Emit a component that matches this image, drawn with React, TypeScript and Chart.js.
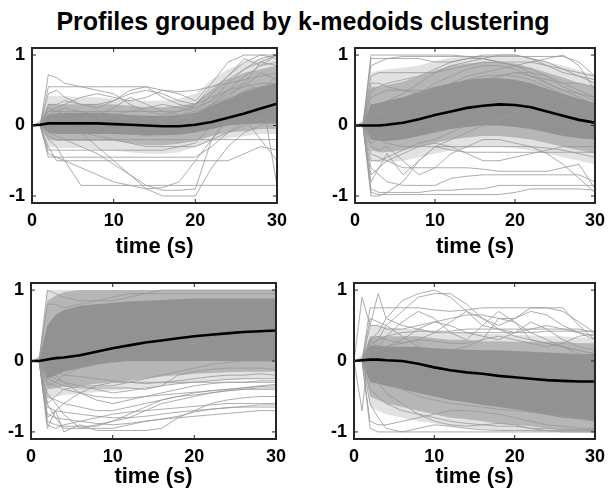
import React, { useEffect, useRef } from 'react';
import { Chart, registerables } from 'chart.js';

Chart.register(...registerables);
Chart.defaults.font.family = "'Liberation Sans', Arial, Helvetica, sans-serif";

const TITLE = 'Profiles grouped by k-medoids clustering';
const X_LABEL = 'time (s)';
const TIME = [0, 1, 2, 3, 4, 6, 8, 10, 12, 14, 16, 18, 20, 22, 24, 26, 28, 30];
const X_TICKS = [0, 10, 20, 30];
const Y_TICKS = [-1, 0, 1];
const Y_MIN = -1.1;
const Y_MAX = 1.1;

// ---------- Cluster 1 (top-left) ----------
const C1_MEAN = [0, 0.01, 0.03, 0.03, 0.03, 0.03, 0.03, 0.02, 0.01, 0, -0.01, -0.01, 0.01, 0.05, 0.11, 0.17, 0.24, 0.31];
const C1_CORE_LO = [0, 0, -0.1, -0.12, -0.12, -0.12, -0.12, -0.12, -0.13, -0.14, -0.14, -0.13, -0.1, -0.05, 0, 0.02, 0.03, 0.03];
const C1_CORE_HI = [0, 0.02, 0.15, 0.17, 0.18, 0.18, 0.18, 0.17, 0.15, 0.14, 0.14, 0.15, 0.18, 0.28, 0.38, 0.48, 0.55, 0.6];
const C1_HALO_LO = [0, 0, -0.2, -0.22, -0.22, -0.22, -0.22, -0.22, -0.25, -0.28, -0.28, -0.26, -0.22, -0.15, -0.1, -0.08, -0.05, -0.05];
const C1_HALO_HI = [0, 0.05, 0.3, 0.3, 0.3, 0.3, 0.3, 0.3, 0.28, 0.26, 0.26, 0.28, 0.32, 0.5, 0.65, 0.75, 0.8, 0.85];
const C1_OUTER_LO = [0, 0, -0.3, -0.32, -0.32, -0.32, -0.34, -0.36, -0.38, -0.4, -0.4, -0.38, -0.3, -0.22, -0.18, -0.15, -0.12, -0.12];
const C1_OUTER_HI = [0, 0.08, 0.42, 0.42, 0.42, 0.4, 0.4, 0.38, 0.36, 0.35, 0.35, 0.38, 0.45, 0.65, 0.8, 0.9, 0.95, 0.95];
const C1_LINES = [
  [0, 0, 0.72, 0.68, 0.6, 0.55, 0.5, 0.45, 0.3, 0.2, 0.15, 0.2, 0.3, 0.5, 0.7, 0.95, 0.85, 0.9],
  [0, 0, 0.55, 0.55, 0.55, 0.55, 0.55, 0.55, 0.55, 0.55, 0.5, 0.48, 0.5, 0.55, 0.6, 0.65, 0.7, 0.75],
  [0, 0, 0.45, 0.5, 0.4, 0.3, 0.25, 0.35, 0.5, 0.55, 0.4, 0.3, 0.25, 0.35, 0.6, 0.8, 0.95, 1.0],
  [0, 0, -0.4, -0.45, -0.5, -0.6, -0.7, -0.8, -0.85, -0.9, -0.88, -0.8, -0.5, -0.2, -0.1, 0, 0.1, 0.1],
  [0, 0, -0.45, -0.45, -0.45, -0.45, -0.45, -0.45, -0.45, -0.45, -0.45, -0.45, -0.45, -0.3, -0.1, 0.05, 0.1, 0.15],
  [0, 0, -0.3, -0.5, -0.5, -0.5, -0.5, -0.5, -0.5, -0.5, -0.5, -0.5, -0.5, -0.5, -0.5, -0.4, -0.3, -0.35],
  [0, 0, -0.2, -0.3, -0.5, -0.85, -0.85, -0.85, -0.85, -0.85, -0.85, -0.85, -0.85, -0.85, -0.85, -0.85, -0.85, -0.85],
  [0, 0, -0.1, -0.15, -0.2, -0.3, -0.4, -0.55, -0.7, -0.85, -0.92, -0.92, -0.9, -0.2, 0.1, 0.2, 0.3, 0.3],
  [0, 0, 0.1, 0.05, 0, -0.1, -0.3, -0.5, -0.7, -0.9, -1.0, -1.0, -1.0, -0.6, -0.3, -0.1, 0, 0.1],
  [0, 0, 0.2, 0.25, 0.3, 0.4, 0.45, 0.4, 0.35, 0.4, 0.5, 0.45, 0.35, 0.6, 0.9, 1.0, 1.0, 1.0],
  [0, 0, 0.1, 0.15, 0.1, 0.05, 0.1, 0.15, 0.1, 0.1, 0.1, 0.15, 0.2, 0.45, 0.7, 0.9, 1.0, 0.95],
  [0, 0, 0.05, 0.1, 0.1, 0.1, 0.05, 0.0, 0.05, 0.1, 0.05, 0.1, 0.3, 0.55, 0.65, 0.8, 0.9, 0.85],
  [0, 0, 0.1, 0.1, 0.1, 0.1, 0.1, 0.1, 0.1, 0.1, 0.1, 0.1, 0.15, 0.3, 0.5, 0.6, 0.5, -0.85],
  [0, 0, -0.05, -0.1, -0.1, -0.1, -0.15, -0.2, -0.25, -0.3, -0.3, -0.3, -0.3, -0.2, 0.1, 0.3, 0.5, 0.7],
  [0, 0, 0.3, 0.3, 0.35, 0.3, 0.3, 0.35, 0.45, 0.5, 0.45, 0.35, 0.3, 0.4, 0.5, 0.55, 0.6, 0.6],
  [0, 0, -0.35, -0.35, -0.35, -0.35, -0.35, -0.35, -0.35, -0.35, -0.35, -0.3, -0.25, 0, 0.2, 0.4, 0.35, 0.45],
  [0, 0, 0.2, 0.2, 0.2, 0.2, 0.2, 0.2, 0.2, 0.2, 0.2, 0.2, 0.25, 0.35, 0.5, 0.7, 0.85, 1.0],
  [0, 0, 0.05, 0, -0.05, -0.05, 0, 0, 0, -0.05, -0.05, 0, 0.1, 0.3, 0.45, 0.55, 0.75, 0.65],
  [0, 0, 0.25, 0.2, 0.15, 0.1, 0.15, 0.25, 0.4, 0.3, 0.2, 0.15, 0.1, 0.2, 0.3, 0.1, -0.2, -0.5],
  [0, 0, -0.15, -0.2, -0.2, -0.2, -0.2, -0.2, -0.2, -0.2, -0.2, -0.2, -0.2, -0.2, -0.2, -0.2, -0.2, -0.2],
  [0, 0, 0.15, 0.2, 0.25, 0.2, 0.15, 0.15, 0.2, 0.25, 0.3, 0.25, 0.2, 0.3, 0.4, 0.6, 0.9, 1.0],
  [0, 0, -0.1, -0.05, 0, 0.05, 0, -0.05, -0.1, -0.15, -0.1, 0, 0.05, 0.15, 0.35, 0.5, 0.55, 0.6],
];

// ---------- Cluster 2 (top-right) ----------
const C2_MEAN = [0, 0, 0, 0, 0.01, 0.04, 0.09, 0.15, 0.2, 0.25, 0.28, 0.3, 0.29, 0.26, 0.2, 0.14, 0.08, 0.04];
const C2_CORE_LO = [0, 0, -0.2, -0.22, -0.22, -0.2, -0.15, -0.1, -0.05, -0.02, 0, 0, -0.02, -0.05, -0.1, -0.15, -0.18, -0.2];
const C2_CORE_HI = [0, 0.02, 0.3, 0.32, 0.35, 0.4, 0.48, 0.55, 0.6, 0.65, 0.67, 0.67, 0.65, 0.6, 0.52, 0.45, 0.38, 0.32];
const C2_HALO_LO = [0, 0, -0.35, -0.38, -0.38, -0.35, -0.3, -0.25, -0.2, -0.17, -0.15, -0.15, -0.17, -0.2, -0.25, -0.3, -0.35, -0.4];
const C2_HALO_HI = [0, 0.05, 0.55, 0.55, 0.58, 0.62, 0.7, 0.78, 0.85, 0.88, 0.9, 0.9, 0.88, 0.82, 0.75, 0.68, 0.6, 0.55];
const C2_OUTER_LO = [0, 0, -0.5, -0.52, -0.52, -0.5, -0.45, -0.4, -0.35, -0.32, -0.3, -0.3, -0.32, -0.35, -0.4, -0.45, -0.5, -0.55];
const C2_OUTER_HI = [0, 0.08, 0.75, 0.78, 0.8, 0.82, 0.85, 0.92, 0.96, 0.98, 0.98, 0.98, 0.98, 0.95, 0.9, 0.85, 0.78, 0.72];
const C2_LINES = [
  [0, 0, 1.0, 1.0, 1.0, 1.0, 1.0, 1.0, 1.0, 0.98, 0.95, 0.9, 0.85, 0.75, 0.6, 0.5, 0.45, 0.4],
  [0, 0, 0.95, 0.95, 0.95, 0.95, 0.95, 0.9, 0.9, 0.95, 1.0, 1.0, 1.0, 0.95, 0.9, 0.8, 0.75, 0.7],
  [0, 0, -1.0, -1.0, -0.95, -0.8, -0.5, -0.3, -0.2, -0.1, 0, 0.1, 0.2, 0.25, 0.2, 0.15, 0.1, 0.05],
  [0, 0, -0.9, -0.95, -0.95, -0.95, -0.95, -0.92, -0.92, -0.9, -0.9, -0.85, -0.85, -0.85, -0.85, -0.85, -0.85, -0.85],
  [0, 0, -0.6, -0.7, -0.8, -0.85, -0.85, -0.85, -0.75, -0.72, -0.7, -0.7, -0.7, -0.7, -0.7, -0.7, -0.7, -0.8],
  [0, 0, -0.4, -0.45, -0.5, -0.6, -0.6, -0.6, -0.6, -0.6, -0.62, -0.65, -0.65, -0.65, -0.65, -0.6, -0.55, -0.9],
  [0, 0, -0.8, -0.6, -0.4, -0.7, -0.5, -0.3, -0.35, -0.38, -0.38, -0.38, -0.38, -0.38, -0.38, -0.38, -0.38, -0.38],
  [0, 0, 0.7, 0.75, 0.75, 0.75, 0.75, 0.75, 0.8, 0.85, 0.9, 0.9, 0.85, 0.9, 0.95, 1.0, 0.85, 0.5],
  [0, 0, -0.3, -0.35, -0.3, -0.5, -0.7, -0.6, -0.4, -0.3, -0.2, -0.2, -0.25, -0.3, -0.4, -0.55, -0.75, -0.95],
  [0, 0, 0.2, 0.25, 0.35, 0.45, 0.6, 0.75, 0.85, 0.9, 0.95, 1.0, 1.0, 0.95, 0.85, 0.75, 0.7, 0.65],
  [0, 0, 0.1, 0.15, 0.2, 0.3, 0.45, 0.6, 0.7, 0.8, 0.85, 0.85, 0.8, 0.7, 0.6, 0.5, 0.4, 0.3],
  [0, 0, -0.15, -0.2, -0.25, -0.3, -0.3, -0.3, -0.3, -0.3, -0.3, -0.3, -0.3, -0.3, -0.32, -0.35, -0.4, -0.45],
  [0, 0, 0.4, 0.45, 0.5, 0.5, 0.5, 0.5, 0.55, 0.6, 0.65, 0.7, 0.75, 0.7, 0.65, 0.6, 0.6, 0.55],
  [0, 0, -0.5, -0.5, -0.45, -0.35, -0.25, -0.2, -0.1, 0.0, 0.05, 0.1, 0.15, 0.1, 0.05, 0, -0.05, -0.1],
  [0, 0, 0.6, 0.6, 0.55, 0.5, 0.45, 0.5, 0.6, 0.7, 0.75, 0.8, 0.85, 0.8, 0.7, 0.55, 0.45, 0.35],
  [0, 0, -0.1, -0.1, -0.05, 0.05, 0.2, 0.3, 0.4, 0.5, 0.6, 0.7, 0.75, 0.75, 0.7, 0.6, 0.5, 0.4],
  [0, 0, -0.7, -0.6, -0.5, -0.4, -0.3, -0.25, -0.3, -0.4, -0.5, -0.5, -0.45, -0.4, -0.35, -0.3, -0.3, -0.3],
  [0, 0, 0.85, 0.9, 0.95, 0.98, 0.98, 0.98, 0.98, 0.98, 0.98, 0.98, 0.98, 0.98, 0.98, 0.98, 0.9, 0.7],
  [0, 0, -0.95, -0.98, -0.98, -0.98, -0.98, -0.98, -0.98, -0.98, -0.98, -0.98, -0.95, -0.9, -0.9, -0.9, -0.9, -0.92],
  [0, 0, 0.3, 0.2, 0.1, 0.15, 0.25, 0.4, 0.55, 0.65, 0.7, 0.72, 0.7, 0.65, 0.55, 0.45, 0.2, 0.05],
  [0, 0, -0.25, -0.2, -0.15, -0.1, 0, 0.1, 0.2, 0.3, 0.35, 0.4, 0.45, 0.5, 0.45, 0.4, 0.3, 0.2],
  [0, 0, 0.5, 0.55, 0.6, 0.65, 0.7, 0.8, 0.9, 0.95, 0.95, 0.9, 0.9, 0.9, 0.85, 0.8, 0.7, 0.6],
];

// ---------- Cluster 3 (bottom-left) ----------
const C3_MEAN = [0, 0, 0.02, 0.04, 0.05, 0.08, 0.13, 0.18, 0.22, 0.26, 0.29, 0.32, 0.35, 0.37, 0.39, 0.41, 0.42, 0.43];
const C3_CORE_LO = [0, 0, -0.25, -0.2, -0.15, -0.1, -0.05, -0.02, 0, 0, 0, 0, 0, 0, 0, 0, 0, 0];
const C3_CORE_HI = [0, 0.02, 0.5, 0.65, 0.72, 0.78, 0.8, 0.82, 0.84, 0.85, 0.86, 0.87, 0.88, 0.88, 0.88, 0.88, 0.88, 0.88];
const C3_HALO_LO = [0, 0, -0.4, -0.38, -0.36, -0.35, -0.32, -0.3, -0.28, -0.25, -0.22, -0.2, -0.18, -0.17, -0.16, -0.15, -0.15, -0.15];
const C3_HALO_HI = [0, 0.05, 0.85, 0.92, 0.97, 1, 1, 1, 1, 1, 1, 1, 1, 1, 1, 1, 1, 1];
const C3_OUTER_LO = [0, 0, -0.55, -0.5, -0.48, -0.46, -0.44, -0.42, -0.4, -0.37, -0.34, -0.32, -0.3, -0.28, -0.27, -0.26, -0.25, -0.25];
const C3_OUTER_HI = [0, 0.08, 1, 1, 1, 1, 1, 1, 1, 1, 1, 1, 1, 1, 1, 1, 1, 1];
const C3_LINES = [
  [0, 0, -0.9, -0.95, -0.9, -0.85, -0.8, -0.75, -0.72, -0.7, -0.68, -0.66, -0.64, -0.62, -0.6, -0.6, -0.6, -0.6],
  [0, 0, -0.6, -0.8, -0.95, -0.95, -0.95, -0.95, -0.9, -0.85, -0.82, -0.8, -0.78, -0.76, -0.74, -0.72, -0.7, -0.7],
  [0, 0, -0.95, -0.7, -1.0, -0.9, -0.98, -0.98, -0.98, -0.98, -0.95, -0.8, -0.7, -0.6, -0.55, -0.52, -0.5, -0.5],
  [0, 0, -0.5, -0.55, -0.6, -0.65, -0.7, -0.7, -0.65, -0.6, -0.55, -0.5, -0.48, -0.45, -0.42, -0.4, -0.4, -0.4],
  [0, 0, -0.75, -0.8, -0.82, -0.85, -0.88, -0.9, -0.88, -0.85, -0.82, -0.78, -0.72, -0.68, -0.66, -0.65, -0.65, -0.65],
  [0, 0, -0.3, -0.35, -0.4, -0.45, -0.5, -0.52, -0.52, -0.5, -0.48, -0.46, -0.44, -0.42, -0.4, -0.38, -0.35, -0.33],
  [0, 0, -0.2, -0.25, -0.3, -0.35, -0.4, -0.45, -0.42, -0.38, -0.35, -0.32, -0.3, -0.28, -0.26, -0.25, -0.25, -0.25],
  [0, 0, -0.8, -0.7, -0.6, -0.45, -0.35, -0.3, -0.3, -0.32, -0.3, -0.28, -0.25, -0.22, -0.2, -0.2, -0.18, -0.2],
  [0, 0, -0.45, -0.6, -0.75, -0.95, -0.9, -0.85, -0.8, -0.7, -0.6, -0.55, -0.5, -0.45, -0.42, -0.4, -0.38, -0.38],
  [0, 0, 1.0, 0.95, 0.9, 0.85, 0.85, 0.85, 0.9, 0.95, 1, 1, 1, 1, 1, 1, 1, 1],
  [0, 0, 0.8, 0.8, 0.75, 0.8, 0.85, 0.9, 0.95, 0.95, 0.95, 0.95, 0.95, 0.95, 0.95, 0.95, 0.95, 0.95],
  [0, 0, -0.35, -0.3, -0.2, -0.1, -0.05, 0, 0.05, 0.1, 0.15, 0.2, 0.25, 0.3, 0.35, 0.4, 0.45, 0.5],
  [0, 0, -0.6, -0.5, -0.4, -0.35, -0.35, -0.35, -0.3, -0.25, -0.2, -0.15, -0.1, -0.05, -0.02, 0, 0, 0],
  [0, 0, -0.15, -0.2, -0.3, -0.45, -0.55, -0.6, -0.55, -0.5, -0.45, -0.4, -0.35, -0.32, -0.3, -0.3, -0.28, -0.28],
  [0, 0, -0.85, -0.9, -0.92, -0.92, -0.92, -0.85, -0.75, -0.65, -0.55, -0.5, -0.45, -0.42, -0.4, -0.38, -0.36, -0.35],
  [0, 0, -0.25, -0.3, -0.35, -0.38, -0.38, -0.38, -0.38, -0.4, -0.35, -0.2, -0.15, -0.12, -0.1, -0.1, -0.1, -0.12],
  [0, 0, -0.1, -0.15, -0.2, -0.22, -0.25, -0.28, -0.3, -0.3, -0.3, -0.3, -0.3, -0.3, -0.3, -0.3, -0.3, -0.3],
  [0, 0, -0.65, -0.7, -0.72, -0.75, -0.78, -0.8, -0.8, -0.78, -0.75, -0.72, -0.7, -0.68, -0.66, -0.64, -0.62, -0.62],
];

// ---------- Cluster 4 (bottom-right) ----------
const C4_MEAN = [0, 0.01, 0.02, 0.02, 0.01, 0.0, -0.04, -0.09, -0.13, -0.16, -0.18, -0.21, -0.23, -0.25, -0.27, -0.28, -0.29, -0.29];
const C4_CORE_LO = [0, 0, -0.3, -0.32, -0.35, -0.4, -0.45, -0.5, -0.55, -0.58, -0.62, -0.65, -0.68, -0.72, -0.76, -0.8, -0.82, -0.85];
const C4_CORE_HI = [0, 0.02, 0.22, 0.22, 0.2, 0.2, 0.2, 0.18, 0.17, 0.16, 0.15, 0.15, 0.14, 0.13, 0.12, 0.11, 0.1, 0.1];
const C4_HALO_LO = [0, 0, -0.5, -0.55, -0.6, -0.65, -0.7, -0.75, -0.8, -0.82, -0.85, -0.88, -0.9, -0.92, -0.95, -0.97, -0.98, -1.0];
const C4_HALO_HI = [0, 0.05, 0.35, 0.35, 0.35, 0.35, 0.35, 0.32, 0.3, 0.3, 0.28, 0.28, 0.27, 0.27, 0.27, 0.27, 0.25, 0.25];
const C4_OUTER_LO = [0, 0, -0.65, -0.7, -0.75, -0.8, -0.85, -0.88, -0.92, -0.94, -0.96, -0.98, -0.98, -0.99, -1, -1, -1, -1];
const C4_OUTER_HI = [0, 0.08, 0.5, 0.5, 0.48, 0.45, 0.45, 0.42, 0.4, 0.4, 0.38, 0.38, 0.37, 0.36, 0.35, 0.35, 0.33, 0.33];
const C4_LINES = [
  [0, 0.9, 0.5, 0.95, 0.6, 0.5, 0.45, 0.4, 0.4, 0.4, 0.4, 0.4, 0.4, 0.4, 0.42, 0.42, 0.42, 0.42],
  [0, -0.7, 0.3, 0.2, 0.1, 0.05, 0, -0.05, -0.1, -0.15, -0.2, -0.25, -0.3, -0.3, -0.35, -0.35, -0.35, -0.35],
  [0, 0, 0.3, 0.4, 0.6, 0.85, 0.95, 1.0, 0.9, 0.7, 0.5, 0.45, 0.4, 0.45, 0.5, 0.45, 0.4, 0.35],
  [0, 0, 0.2, 0.3, 0.5, 0.7, 0.9, 0.95, 0.95, 0.8, 0.6, 0.5, 0.6, 0.7, 0.65, 0.5, 0.4, 0.3],
  [0, 0, 0.75, 0.75, 0.75, 0.75, 0.75, 0.72, 0.7, 0.72, 0.75, 0.75, 0.75, 0.75, 0.75, 0.75, 0.5, 0.3],
  [0, 0, 0.5, 0.5, 0.45, 0.45, 0.5, 0.55, 0.6, 0.65, 0.65, 0.6, 0.6, 0.75, 0.75, 0.7, 0.55, 0.4],
  [0, 0, 0.1, 0.2, 0.35, 0.55, 0.7, 0.6, 0.4, 0.3, 0.5, 0.7, 0.55, 0.3, 0.25, 0.2, 0.15, 0.1],
  [0, 0, -0.95, -1.0, -1.0, -1.0, -1.0, -1.0, -1.0, -1.0, -1.0, -1.0, -1.0, -1.0, -1.0, -1.0, -1.0, -1.0],
  [0, 0, -0.6, -0.8, -0.95, -1.0, -0.95, -0.9, -0.92, -0.95, -0.97, -0.98, -0.98, -0.98, -0.98, -0.98, -0.98, -0.98],
  [0, 0, -0.4, -0.5, -0.6, -0.7, -0.75, -0.8, -0.85, -0.88, -0.9, -0.92, -0.92, -0.95, -0.95, -0.97, -0.97, -0.97],
  [0, 0, 0.25, 0.3, 0.35, 0.4, 0.42, 0.42, 0.42, 0.45, 0.45, 0.45, 0.45, 0.45, 0.45, 0.45, 0.45, 0.4],
  [0, 0, 0.1, 0.15, 0.2, 0.3, 0.45, 0.55, 0.5, 0.4, 0.35, 0.3, 0.4, 0.55, 0.45, 0.3, 0.2, 0.15],
  [0, 0, -0.2, -0.3, -0.45, -0.6, -0.75, -0.85, -0.9, -0.92, -0.9, -0.88, -0.9, -0.95, -0.98, -1.0, -1.0, -1.0],
  [0, 0, 0.15, 0.15, 0.2, 0.25, 0.3, 0.28, 0.25, 0.25, 0.3, 0.35, 0.3, 0.25, 0.2, 0.25, 0.35, 0.38],
  [0, 0, -0.1, -0.2, -0.3, -0.4, -0.5, -0.55, -0.6, -0.62, -0.65, -0.68, -0.7, -0.72, -0.75, -0.78, -0.8, -0.85],
  [0, 0, 0.6, 0.55, 0.5, 0.35, 0.2, 0.1, 0.15, 0.2, 0.3, 0.6, 0.55, 0.4, 0.3, 0.2, 0.1, 0.05],
  [0, 0, -0.85, -0.9, -0.9, -0.85, -0.8, -0.75, -0.7, -0.7, -0.72, -0.75, -0.8, -0.85, -0.9, -0.92, -0.95, -0.95],
  [0, 0, 0.3, 0.35, 0.3, 0.25, 0.3, 0.4, 0.55, 0.7, 0.6, 0.45, 0.35, 0.3, 0.25, 0.2, 0.15, 0.1],
];

const PANELS = [
  { mean: C1_MEAN, coreLo: C1_CORE_LO, coreHi: C1_CORE_HI, haloLo: C1_HALO_LO, haloHi: C1_HALO_HI, outerLo: C1_OUTER_LO, outerHi: C1_OUTER_HI, lines: C1_LINES },
  { mean: C2_MEAN, coreLo: C2_CORE_LO, coreHi: C2_CORE_HI, haloLo: C2_HALO_LO, haloHi: C2_HALO_HI, outerLo: C2_OUTER_LO, outerHi: C2_OUTER_HI, lines: C2_LINES },
  { mean: C3_MEAN, coreLo: C3_CORE_LO, coreHi: C3_CORE_HI, haloLo: C3_HALO_LO, haloHi: C3_HALO_HI, outerLo: C3_OUTER_LO, outerHi: C3_OUTER_HI, lines: C3_LINES },
  { mean: C4_MEAN, coreLo: C4_CORE_LO, coreHi: C4_CORE_HI, haloLo: C4_HALO_LO, haloHi: C4_HALO_HI, outerLo: C4_OUTER_LO, outerHi: C4_OUTER_HI, lines: C4_LINES },
];

// layout of each panel's plot box on the 612x492 page
const LAYOUTS = [
  { left: 0, yAxisW: 32, right: 335, top: 48, xAxisH: 56.7, bottom: 232.3 },
  { left: 323, yAxisW: 32, right: 12, top: 48, xAxisH: 56.7, bottom: 232.3 },
  { left: 0, yAxisW: 31, right: 336, top: 283, xAxisH: 50.7, bottom: 2.3 },
  { left: 322, yAxisW: 32, right: 12, top: 283, xAxisH: 50.7, bottom: 2.3 },
];

const W = 612;
const H = 492;

const boxPlugin = {
  id: 'matlabBox',
  afterDatasetsDraw(chart: any) {
    const { ctx, chartArea: a, scales } = chart;
    const x = scales.x;
    const y = scales.y;
    ctx.save();
    ctx.strokeStyle = '#262626';
    ctx.lineWidth = 1;
    ctx.beginPath();
    for (const v of X_TICKS) {
      const px = x.getPixelForValue(v);
      ctx.moveTo(px, a.bottom);
      ctx.lineTo(px, a.bottom - 4);
      ctx.moveTo(px, a.top);
      ctx.lineTo(px, a.top + 4);
    }
    for (const v of Y_TICKS) {
      const py = y.getPixelForValue(v);
      ctx.moveTo(a.left, py);
      ctx.lineTo(a.left + 4, py);
      ctx.moveTo(a.right, py);
      ctx.lineTo(a.right - 4, py);
    }
    ctx.stroke();
    ctx.lineWidth = 2;
    ctx.strokeRect(a.left, a.top, a.right - a.left, a.bottom - a.top);
    ctx.restore();
  },
};

function pts(vals: number[]) {
  return TIME.map((t, i) => ({ x: t, y: vals[i] }));
}

function Panel({ index }: { index: number }) {
  const ref = useRef<HTMLCanvasElement>(null);
  useEffect(() => {
    const p = PANELS[index];
    const L = LAYOUTS[index];
    const clear = 'rgba(0,0,0,0)';
    const datasets: any[] = [];
    datasets.push({ data: pts(p.mean), borderColor: '#000', borderWidth: 2.6, order: 0, fill: false });
    for (const l of p.lines) {
      datasets.push({ data: pts(l), borderColor: 'rgb(152,152,152)', borderWidth: 0.8, order: 1, fill: false });
    }
    datasets.push({ data: pts(p.outerLo), borderColor: clear, borderWidth: 0, order: 5, fill: false });
    datasets.push({ data: pts(p.outerHi), borderColor: clear, borderWidth: 0, order: 5, fill: '-1', backgroundColor: 'rgba(150,150,150,0.28)' });
    datasets.push({ data: pts(p.haloLo), borderColor: clear, borderWidth: 0, order: 4, fill: false });
    datasets.push({ data: pts(p.haloHi), borderColor: clear, borderWidth: 0, order: 4, fill: '-1', backgroundColor: 'rgba(145,145,145,0.55)' });
    datasets.push({ data: pts(p.coreLo), borderColor: clear, borderWidth: 0, order: 3, fill: false });
    datasets.push({ data: pts(p.coreHi), borderColor: clear, borderWidth: 0, order: 3, fill: '-1', backgroundColor: 'rgba(140,140,140,0.85)' });

    const chart = new Chart(ref.current as HTMLCanvasElement, {
      type: 'line',
      data: { datasets },
      plugins: [boxPlugin],
      options: {
        animation: false,
        responsive: false,
        events: [],
        layout: { padding: { left: L.left, right: L.right, top: L.top, bottom: L.bottom } },
        elements: { point: { radius: 0 }, line: { tension: 0 } },
        plugins: { legend: { display: false }, tooltip: { enabled: false }, title: { display: false } },
        scales: {
          x: {
            type: 'linear',
            min: 0,
            max: 30,
            grid: { display: false, drawTicks: false },
            border: { display: false },
            afterBuildTicks: (s: any) => { s.ticks = X_TICKS.map((v) => ({ value: v })); },
            afterFit: (s: any) => { s.height = L.xAxisH; },
            ticks: { color: '#000', font: { size: 18, weight: 'bold' }, padding: 7, maxRotation: 0, autoSkip: false },
            title: { display: true, text: X_LABEL, color: '#000', font: { size: 22, weight: 'bold' }, padding: { top: 0, bottom: 0 } },
          },
          y: {
            type: 'linear',
            min: Y_MIN,
            max: Y_MAX,
            grid: { display: false, drawTicks: false },
            border: { display: false },
            afterBuildTicks: (s: any) => { s.ticks = Y_TICKS.map((v) => ({ value: v })); },
            afterFit: (s: any) => { s.width = L.yAxisW; },
            ticks: { color: '#000', font: { size: 18, weight: 'bold' }, padding: 7 },
          },
        },
      } as any,
    });
    return () => chart.destroy();
  }, [index]);
  return (
    <canvas
      ref={ref}
      width={W}
      height={H}
      style={{ position: 'absolute', left: 0, top: 0, width: W, height: H }}
    />
  );
}

export default function App() {
  return (
    <div style={{ position: 'absolute', left: 0, top: 0, width: W, height: H, background: '#fff', overflow: 'hidden' }}>
      <div
        style={{
          position: 'absolute',
          left: 0,
          top: 9,
          width: 606,
          textAlign: 'center',
          fontFamily: "'Liberation Sans', Arial, Helvetica, sans-serif",
          fontWeight: 'bold',
          fontSize: 25,
          lineHeight: '25px',
          color: '#000',
          whiteSpace: 'nowrap',
        }}
      >
        {TITLE}
      </div>
      {PANELS.map((_, i) => (
        <Panel key={i} index={i} />
      ))}
    </div>
  );
}
